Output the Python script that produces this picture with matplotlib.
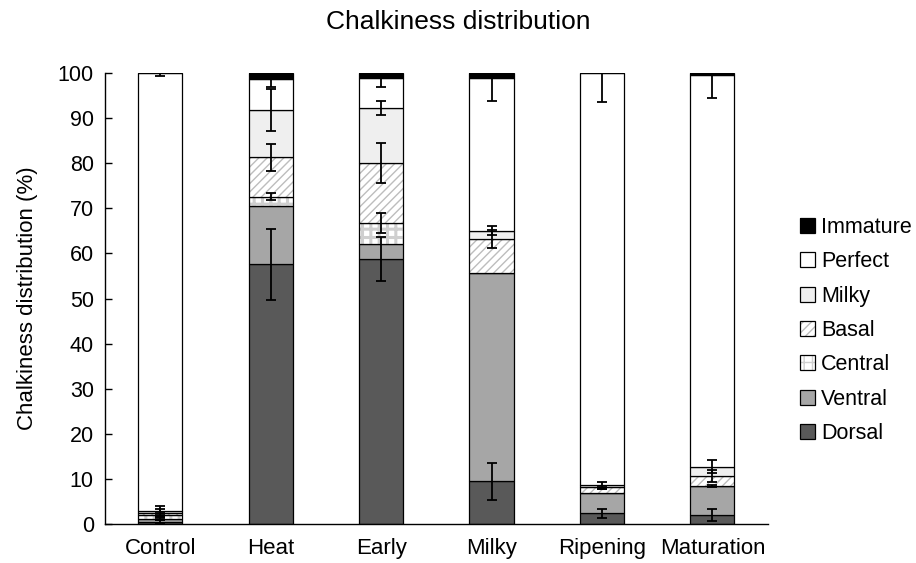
import numpy as np
import matplotlib
matplotlib.use("Agg")
import matplotlib.pyplot as plt
from matplotlib.patches import Patch

plt.rcParams["font.family"] = ["Liberation Sans", "DejaVu Sans"]

# Data: segment heights (%), stacked bottom -> top
categories = ["Control", "Heat", "Early", "Milky", "Ripening", "Maturation"]
dorsal = [0.5, 57.6, 58.8, 9.5, 2.4, 2.0]
ventral = [0.7, 13.0, 3.2, 46.2, 4.5, 6.4]
central = [0.7, 2.0, 4.7, 0.0, 0.0, 0.0]
basal = [0.6, 8.7, 13.3, 7.6, 1.2, 2.3]
milky = [0.4, 10.5, 12.3, 1.7, 0.5, 2.0]
perfect = [97.1, 6.9, 6.7, 34.0, 91.4, 86.9]
immature = [0.0, 1.3, 1.0, 1.0, 0.0, 0.4]

# error (+/-) at the top of each segment
dorsal_err = [0.3, 7.9, 4.9, 4.1, 1.0, 1.3]
ventral_err = [0.4, 0.0, 0.0, 0.0, 0.0, 0.3]
central_err = [0.5, 0.75, 2.2, 0.0, 0.0, 0.0]
basal_err = [0.8, 3.0, 4.4, 2.0, 0.3, 1.3]
milky_err = [1.0, 4.7, 1.5, 1.0, 0.8, 1.5]
perfect_err = [0.7, 1.7, 2.0, 5.1, 6.4, 5.1]
immature_err = [0.0, 0.3, 0.3, 0.3, 0.0, 0.3]

series = [
    ("Dorsal", dorsal, dorsal_err, "#595959", None, "#595959"),
    ("Ventral", ventral, ventral_err, "#a6a6a6", None, "#a6a6a6"),
    ("Central", central, central_err, "white", "++", "#cfcfcf"),
    ("Basal", basal, basal_err, "white", "////", "#bdbdbd"),
    ("Milky", milky, milky_err, "#efefef", None, "#efefef"),
    ("Perfect", perfect, perfect_err, "white", None, "white"),
    ("Immature", immature, immature_err, "black", None, "black"),
]

fig = plt.figure(figsize=(9.16, 5.63), dpi=100)
ax = fig.add_axes([0.1146, 0.0693, 0.7234, 0.801])

x = np.arange(len(categories))
width = 0.4
bottom = np.zeros(len(categories))
handles = []
for name, vals, errs, fc, hatch, hc in series:
    vals = np.array(vals)
    errs = np.array(errs)
    lw_h = 2.2 if hatch == "++" else 1.0
    with plt.rc_context({"hatch.linewidth": lw_h}):
        ax.bar(x, vals, width, bottom=bottom, color=fc, edgecolor=hc,
               hatch=hatch, linewidth=0, zorder=2)
        ax.bar(x, vals, width, bottom=bottom, fill=False, edgecolor="black",
               linewidth=0.9, zorder=2)
        hp = Patch(facecolor=fc, edgecolor=hc, hatch=hatch, linewidth=0)
    top = bottom + vals
    m = errs > 0
    ax.errorbar(x[m], top[m], yerr=errs[m], fmt="none", ecolor="black",
                elinewidth=1.3, capsize=3.5, capthick=1.3, zorder=3)
    handles.append((hp, Patch(facecolor="none", edgecolor="black", linewidth=0.9)))
    bottom = top

ax.set_xlim(-0.5, len(categories) - 0.5)
ax.set_ylim(0, 100)
ax.set_yticks(range(0, 101, 10))
ax.set_xticks(x)
ax.set_xticklabels(categories)
ax.tick_params(axis="y", direction="in", length=5, width=1, labelsize=15.5, pad=8)
ax.tick_params(axis="x", length=0, labelsize=16, pad=10)
for s in ["top", "right"]:
    ax.spines[s].set_visible(False)
ax.spines["left"].set_linewidth(1)
ax.spines["bottom"].set_linewidth(1)
ax.set_ylabel("Chalkiness distribution (%)", fontsize=16, labelpad=14)
fig.text(0.5, 0.961, "Chalkiness distribution", fontsize=19, ha="center", va="center")

labels = [s[0] for s in series]
fig.legend(handles[::-1], labels[::-1], loc="center left",
           bbox_to_anchor=(0.852, 0.413), frameon=False, fontsize=15.5,
           handlelength=0.7, handleheight=0.7, handletextpad=0.3,
           labelspacing=0.62)

fig.savefig("out.png", dpi=100)
